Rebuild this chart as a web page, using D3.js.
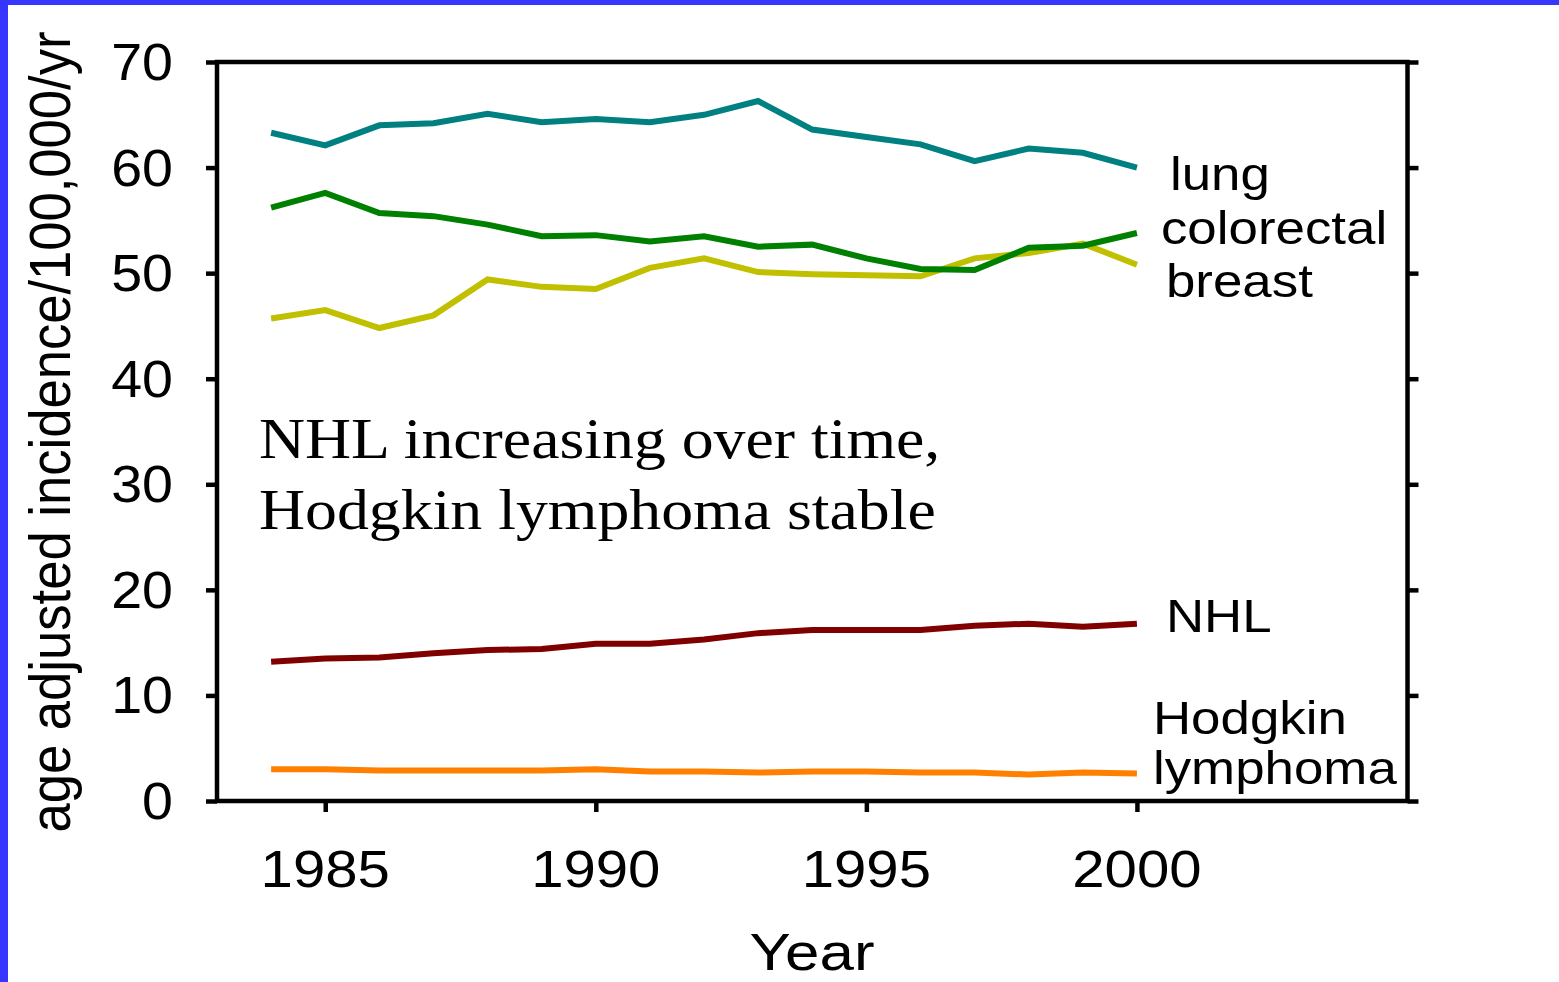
<!DOCTYPE html>
<html>
<head>
<meta charset="utf-8">
<script src="https://cdn.jsdelivr.net/npm/d3@7"></script>
<style>
  html, body { margin: 0; padding: 0; background: #ffffff; }
  svg { display: block; }
</style>
</head>
<body>
<svg id="chart" width="1559" height="982"></svg>
<script>
// Age adjusted cancer incidence per 100,000 per year, 1984–2000
const years = [1984, 1985, 1986, 1987, 1988, 1989, 1990, 1991, 1992, 1993, 1994, 1995, 1996, 1997, 1998, 1999, 2000];
const lung =       [63.3, 62.1, 64.0, 64.2, 65.1, 64.3, 64.6, 64.3, 65.0, 66.3, 63.6, 62.9, 62.2, 60.6, 61.8, 61.4, 60.0];
const colorectal = [56.2, 57.6, 55.7, 55.4, 54.6, 53.5, 53.6, 53.0, 53.5, 52.5, 52.7, 51.4, 50.4, 50.3, 52.4, 52.6, 53.8];
const breast =     [45.7, 46.5, 44.8, 46.0, 49.4, 48.7, 48.5, 50.5, 51.4, 50.1, 49.9, 49.8, 49.7, 51.4, 51.9, 52.8, 50.8];
const nhl =        [13.2, 13.5, 13.6, 14.0, 14.3, 14.4, 14.9, 14.9, 15.3, 15.9, 16.2, 16.2, 16.2, 16.6, 16.8, 16.5, 16.8];
const hodgkin =    [3.0, 3.0, 2.9, 2.9, 2.9, 2.9, 3.0, 2.8, 2.8, 2.7, 2.8, 2.8, 2.7, 2.7, 2.5, 2.7, 2.6];

const yTicks = [0, 10, 20, 30, 40, 50, 60, 70];
const xTicks = [1985, 1990, 1995, 2000];

const seriesNames = ["breast", "colorectal", "lung", "NHL", "Hodgkin lymphoma"];
const seriesValues = [breast, colorectal, lung, nhl, hodgkin];
const seriesColors = ["#c0c000", "#008000", "#008080", "#800000", "#ff8000"];

const yTitle = "age adjusted incidence/100,000/yr";
const xTitle = "Year";
const noteLines = ["NHL increasing over time,", "Hodgkin lymphoma stable"];

// end-of-line labels, drawn to the right of the last data point
const endLabels = [
  { lines: ["lung"], dx: 33, y: 190 },
  { lines: ["colorectal"], dx: 24, y: 244 },
  { lines: ["breast"], dx: 29, y: 297 },
  { lines: ["NHL"], dx: 29, y: 632 },
  { lines: ["Hodgkin", "lymphoma"], dx: 16, y: 734 }
];

const svg = d3.select("#chart");
const W = 1559, H = 982;
const sans = "'Liberation Sans', Arial, sans-serif";
const serif = "'Liberation Serif', 'Times New Roman', serif";

// page frame strips
svg.append("rect").attr("x", 0).attr("y", 0).attr("width", W).attr("height", H).attr("fill", "#ffffff");
svg.append("rect").attr("x", 0).attr("y", 0).attr("width", W).attr("height", 5).attr("fill", "#3636ff");
svg.append("rect").attr("x", 0).attr("y", 0).attr("width", 8).attr("height", H).attr("fill", "#3636ff");

const plot = { left: 217, right: 1407.5, top: 62, bottom: 801 };

const x = d3.scaleLinear().domain([1983, 2005]).range([plot.left, plot.right]);
const y = d3.scaleLinear().domain([0, 70]).range([plot.bottom, plot.top]);

// text whose glyphs are widened horizontally by sx
function stretchedText(g, tx, ty, str, size, family, anchor, sx) {
  return g.append("text")
    .attr("transform", `translate(${tx},${ty}) scale(${sx},1)`)
    .attr("text-anchor", anchor || "start")
    .attr("font-family", family)
    .attr("font-size", size)
    .attr("fill", "#000")
    .text(str);
}

// series lines
const line = d3.line()
  .x((d, i) => x(years[i]))
  .y(d => y(d));

const linesG = svg.append("g");
seriesValues.forEach((vals, k) => {
  linesG.append("path")
    .datum(vals)
    .attr("d", line)
    .attr("fill", "none")
    .attr("stroke", seriesColors[k])
    .attr("stroke-width", 6);
});

// axes (ticks only; the frame is drawn separately)
function styleAxis(g) {
  g.select(".domain").remove();
  g.selectAll(".tick line").attr("stroke", "#000").attr("stroke-width", 4.5);
  g.selectAll(".tick text").remove();
}
svg.append("g").attr("transform", `translate(${plot.left},0)`)
  .call(d3.axisLeft(y).tickValues(yTicks).tickSize(11).tickSizeOuter(0))
  .call(styleAxis);
svg.append("g").attr("transform", `translate(${plot.right},0)`)
  .call(d3.axisRight(y).tickValues(yTicks).tickSize(11).tickSizeOuter(0))
  .call(styleAxis);
svg.append("g").attr("transform", `translate(0,${plot.bottom})`)
  .call(d3.axisBottom(x).tickValues(xTicks).tickSize(11).tickSizeOuter(0))
  .call(styleAxis);

// plot frame
svg.append("rect")
  .attr("x", plot.left).attr("y", plot.top)
  .attr("width", plot.right - plot.left).attr("height", plot.bottom - plot.top)
  .attr("fill", "none").attr("stroke", "#000").attr("stroke-width", 4.5);

// tick labels
const labG = svg.append("g");
yTicks.forEach(v => stretchedText(labG, 173, y(v) + 18, String(v), 51, sans, "end", 1.09));
xTicks.forEach(v => stretchedText(labG, x(v), 887, String(v), 51, sans, "middle", 1.14));

// axis titles
stretchedText(labG, 812, 970, xTitle, 52, sans, "middle", 1.19);
labG.append("text")
  .attr("transform", "translate(70,432) scale(1.09,1) rotate(-90)")
  .attr("text-anchor", "middle")
  .attr("font-family", sans)
  .attr("font-size", 52.6)
  .attr("fill", "#000")
  .text(yTitle);

// series labels at the right end
const lastX = x(years[years.length - 1]);
endLabels.forEach(lab => {
  lab.lines.forEach((t, j) => stretchedText(labG, lastX + lab.dx, lab.y + j * 50, t, 47, sans, "start", 1.125));
});

// annotation
noteLines.forEach((t, j) => stretchedText(labG, 259, 458 + j * 71, t, 58, serif, "start", 1.1));
</script>
</body>
</html>
